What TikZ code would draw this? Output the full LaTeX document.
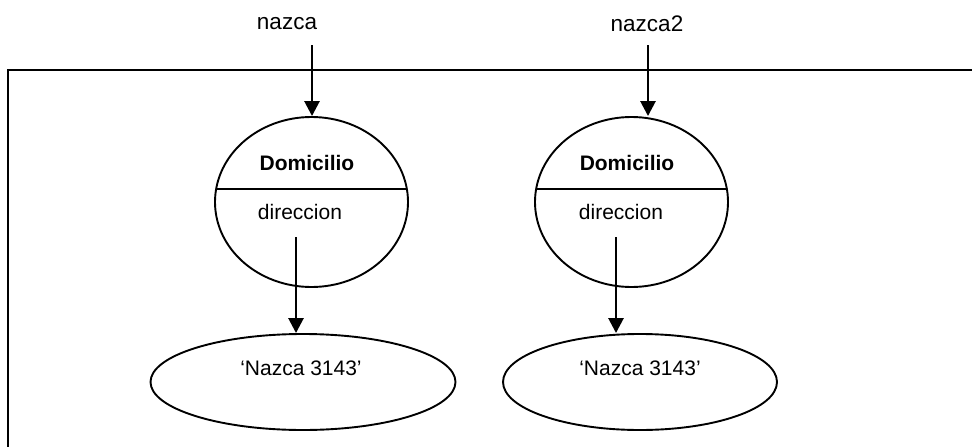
\documentclass[tikz,border=0pt]{standalone}
\usepackage{fontspec}
\setmainfont{Liberation Sans}
\usetikzlibrary{arrows.meta,shapes.geometric,calc}
\begin{document}
\begin{tikzpicture}[x=1pt,y=-1pt,
  lbl/.style={font=\fontsize{22.5}{26}\selectfont, inner sep=0pt},
  txt/.style={font=\fontsize{21}{25}\selectfont, inner sep=0pt},
  obj/.style={draw, ellipse, line width=1.9pt, minimum width=193pt, minimum height=170pt, inner sep=0pt},
  val/.style={draw, ellipse, line width=1.9pt, inner sep=0pt, minimum height=96pt},
  conn/.style={line width=2.7pt, -{Triangle[width=15pt,length=15pt]}},
  frame/.style={line width=2.6pt}]
\useasboundingbox (0,0) rectangle (972,447);
% frame
\coordinate (ftl) at (8,70);
\coordinate (ftr) at (972,70);
\coordinate (fbl) at (8,447);
\draw[frame] (fbl) -- (ftl) -- (ftr);
% top labels
\node[lbl] (n1) at (287,24) {nazca};
\node[lbl] (n2) at (647,24) {nazca2};
% objects
\node[obj] (c1) at (311.5,202) {};
\node[obj] (c2) at (631.5,202) {};
\draw[line width=1.9pt] ($(c1.center)+(-95.4,-13)$) -- ($(c1.center)+(95.4,-13)$);
\draw[line width=1.9pt] ($(c2.center)+(-95.4,-13)$) -- ($(c2.center)+(95.4,-13)$);
\node[txt,font=\fontsize{21}{25}\selectfont\bfseries] (d1) at (307,163) {Domicilio};
\node[txt,font=\fontsize{21}{25}\selectfont\bfseries] (d2) at (627,163) {Domicilio};
\node[txt] (r1) at (300,212) {direccion};
\node[txt] (r2) at (621,212) {direccion};
% values
\node[val, minimum width=305pt] (e1) at (303,382) {};
\node[val, minimum width=274pt] (e2) at (640,382) {};
\node[txt] (v1) at (301,368) {`Nazca 3143'};
\node[txt] (v2) at (640,368) {`Nazca 3143'};
% connectors
\coordinate (s1) at (312,45);
\coordinate (s2) at (648,45);
\draw[conn] (s1) -- (s1 |- c1.north);
\draw[conn] (s2) -- (s2 |- c2.north);
\coordinate (t1) at (296,237);
\coordinate (t2) at (616,237);
\draw[conn] (t1) -- (t1 |- e1.north);
\draw[conn] (t2) -- (t2 |- e2.north);
\end{tikzpicture}
\end{document}
